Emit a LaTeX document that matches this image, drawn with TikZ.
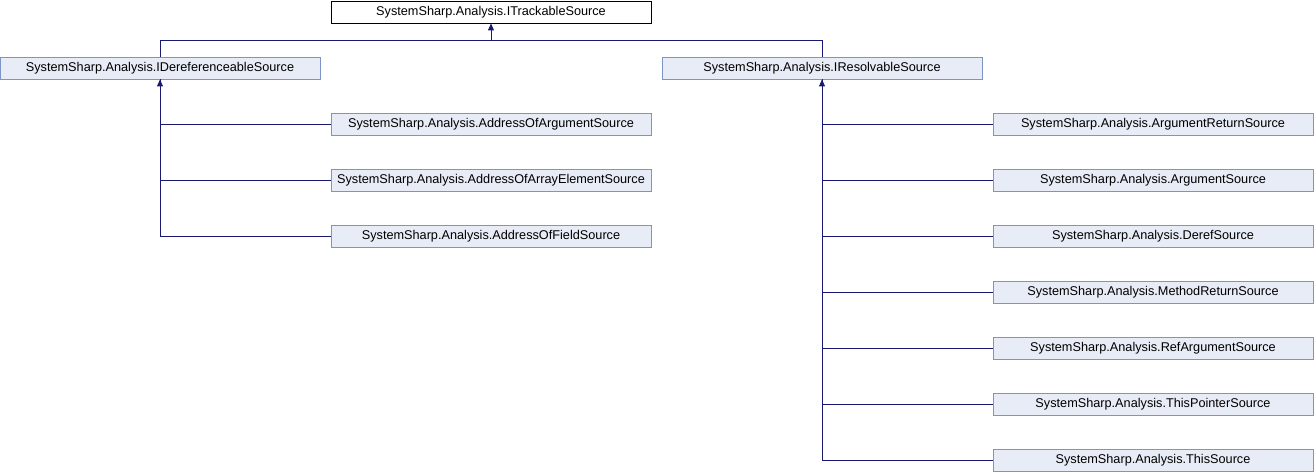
\documentclass[tikz,border=0pt]{standalone}
\usepackage{fontspec}
\setmainfont{Liberation Sans}
\usetikzlibrary{arrows.meta}
\definecolor{edgeblue}{HTML}{191970}
\definecolor{boxfill}{HTML}{E8ECF6}
\definecolor{boxline}{HTML}{7C95C6}
\begin{document}
\begin{tikzpicture}[x=1pt,y=-1pt,
  cls/.style={draw=boxline,fill=boxfill,line width=0.9pt,minimum width=320pt,minimum height=22pt,inner sep=0pt,font=\fontsize{12.7}{14}\selectfont},
  topcls/.style={cls,draw=black,fill=white},
  link/.style={draw=edgeblue,line width=1pt},
  inh/.style={link,{Triangle[length=7pt,width=6pt]}-}]
\useasboundingbox (0,0) rectangle (1314,472);
\node[topcls] (top) at (491,12) {SystemSharp.Analysis.ITrackableSource};
\node[cls] (deref) at (160,68) {SystemSharp.Analysis.IDereferenceableSource};
\node[cls] (resol) at (822,68) {SystemSharp.Analysis.IResolvableSource};
\node[cls] (a1) at (491,124) {SystemSharp.Analysis.AddressOfArgumentSource};
\node[cls] (a2) at (491,180) {SystemSharp.Analysis.AddressOfArrayElementSource};
\node[cls] (a3) at (491,236) {SystemSharp.Analysis.AddressOfFieldSource};
\node[cls] (r1) at (1153,124) {SystemSharp.Analysis.ArgumentReturnSource};
\node[cls] (r2) at (1153,180) {SystemSharp.Analysis.ArgumentSource};
\node[cls] (r3) at (1153,236) {SystemSharp.Analysis.DerefSource};
\node[cls] (r4) at (1153,292) {SystemSharp.Analysis.MethodReturnSource};
\node[cls] (r5) at (1153,348) {SystemSharp.Analysis.RefArgumentSource};
\node[cls] (r6) at (1153,404) {SystemSharp.Analysis.ThisPointerSource};
\node[cls] (r7) at (1153,460) {SystemSharp.Analysis.ThisSource};
\coordinate (j) at (491,40);
\draw[inh] (top.south) -- (j);
\draw[link] (deref.north) |- (j);
\draw[link] (resol.north) |- (j);
\draw[inh] (deref.south) |- (a1.west);
\draw[link] (deref.south) |- (a2.west);
\draw[link] (deref.south) |- (a3.west);
\draw[inh] (resol.south) |- (r1.west);
\foreach \n in {r2,r3,r4,r5,r6,r7}{\draw[link] (resol.south) |- (\n.west);}
\end{tikzpicture}
\end{document}
